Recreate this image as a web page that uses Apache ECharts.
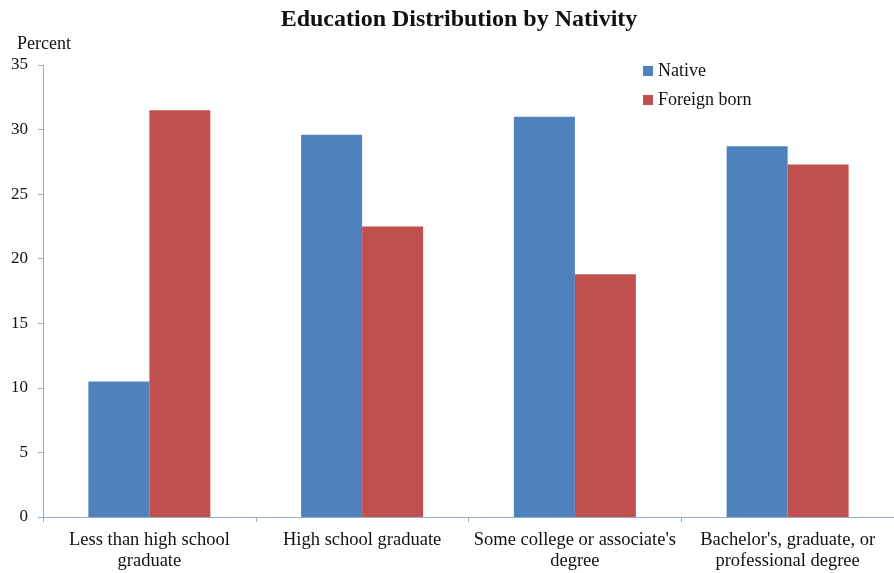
<!DOCTYPE html>
<html>
<head>
<meta charset="utf-8">
<script src="https://cdn.jsdelivr.net/npm/echarts@6/dist/echarts.min.js"></script>
<style>
  html, body { margin: 0; padding: 0; background: #fff; }
  #chart { width: 894px; height: 573px; }
</style>
</head>
<body>
<div id="chart"></div>
<script>
// Education attainment shares (percent) by nativity
const categories = [
  'Less than high school\ngraduate',
  'High school graduate',
  "Some college or associate's\ndegree",
  "Bachelor's, graduate, or\nprofessional degree"
];
const nativeValues = [10.5, 29.6, 31.0, 28.7];
const foreignBornValues = [31.5, 22.5, 18.8, 27.3];
const yTicks = { min: 0, max: 35, interval: 5 };

const serif = '"Liberation Serif", "Times New Roman", serif';
const axisColor = '#8fb0cf';

const chart = echarts.init(document.getElementById('chart'), null, { renderer: 'canvas' });
chart.setOption({
  animation: false,
  backgroundColor: '#ffffff',
  title: {
    text: 'Education Distribution by Nativity',
    left: 454,
    textAlign: 'center',
    top: 3,
    textStyle: { fontFamily: serif, fontWeight: 'bold', fontSize: 24, color: '#111' }
  },
  legend: {
    orient: 'vertical',
    left: 638,
    top: 57,
    itemWidth: 10,
    itemHeight: 10,
    itemGap: 11,
    icon: 'rect',
    textStyle: { fontFamily: serif, fontSize: 18, color: '#111' },
    data: ['Native', 'Foreign born']
  },
  grid: { left: 43, top: 65, width: 860, height: 452, containLabel: false },
  xAxis: {
    type: 'category',
    data: categories,
    axisLine: { lineStyle: { color: axisColor, width: 1 } },
    axisTick: { show: true, alignWithLabel: false, length: 5, lineStyle: { color: axisColor } },
    axisLabel: {
      fontFamily: serif, fontSize: 18.5, color: '#111', margin: 13, lineHeight: 21,
      interval: 0
    }
  },
  yAxis: {
    type: 'value',
    min: yTicks.min,
    max: yTicks.max,
    interval: yTicks.interval,
    name: 'Percent',
    nameLocation: 'end',
    nameGap: 12,
    nameTextStyle: { fontFamily: serif, fontSize: 18, color: '#111', align: 'left', padding: [0, 0, 0, -26] },
    axisLine: { show: true, lineStyle: { color: axisColor, width: 1 } },
    axisTick: { show: true, length: 5, lineStyle: { color: axisColor } },
    axisLabel: { fontFamily: serif, fontSize: 17, color: '#111', margin: 15 },
    splitLine: { show: false }
  },
  series: [
    {
      name: 'Native',
      type: 'bar',
      data: nativeValues,
      barWidth: 61,
      barGap: '0%',
      itemStyle: { color: '#4f81bd' }
    },
    {
      name: 'Foreign born',
      type: 'bar',
      data: foreignBornValues,
      barWidth: 61,
      barGap: '0%',
      itemStyle: { color: '#c0504d' }
    }
  ]
});
</script>
</body>
</html>
